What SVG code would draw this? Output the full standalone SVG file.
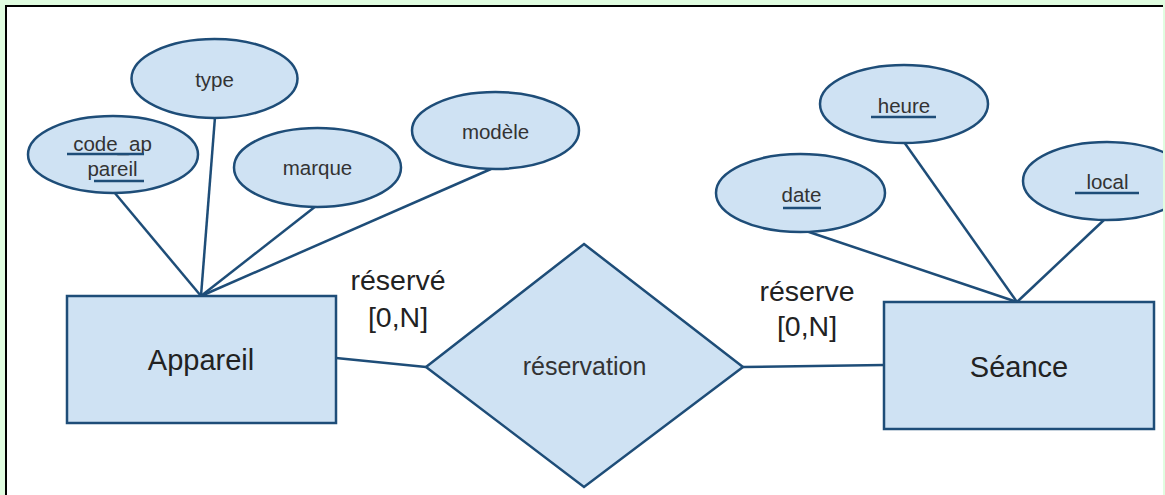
<svg xmlns="http://www.w3.org/2000/svg" width="1165" height="495" viewBox="0 0 1165 495">
<style>
.shape{fill:#cfe2f3;stroke:#1e4d78;stroke-width:2.5}
.conn{stroke:#1e4d78;stroke-width:2.5;fill:none}
.ul{stroke:#1e4d78;stroke-width:2.5}
.attr{font-family:"Liberation Sans",Arial,sans-serif;font-size:20.5px;fill:#333;text-anchor:middle}
.big{font-family:"Liberation Sans",Arial,sans-serif;font-size:29px;fill:#222;text-anchor:middle}
.rel{font-family:"Liberation Sans",Arial,sans-serif;font-size:25px;fill:#333;text-anchor:middle}
.card{font-family:"Liberation Sans",Arial,sans-serif;font-size:28.5px;fill:#222;text-anchor:middle}
</style>
<rect x="0" y="0" width="1165" height="495" fill="#e0fde0"/>
<rect x="6" y="6" width="1157" height="489" fill="#ffffff"/>
<path d="M6,495 V6 H1163" stroke="#000" stroke-width="2" fill="none"/>
<g id="connectors">
<line class="conn" x1="201" y1="296" x2="114" y2="192"/>
<line class="conn" x1="201" y1="296" x2="215" y2="117"/>
<line class="conn" x1="201" y1="296" x2="316" y2="206"/>
<line class="conn" x1="201" y1="296" x2="491" y2="169"/>
<line class="conn" x1="336" y1="358" x2="426" y2="367"/>
<line class="conn" x1="743" y1="367" x2="884" y2="365"/>
<line class="conn" x1="1017" y1="302" x2="806" y2="231"/>
<line class="conn" x1="1017" y1="302" x2="904" y2="142"/>
<line class="conn" x1="1017" y1="302" x2="1105" y2="219"/>
</g>
<g id="type">
<ellipse class="shape" cx="214.5" cy="78.5" rx="83" ry="39.5"/>
<text class="attr" x="214.5" y="87">type</text>
</g>
<g id="code_appareil">
<ellipse class="shape" cx="113" cy="154.5" rx="85" ry="38.5"/>
<text class="attr" x="112.5" y="151">code_ap</text>
<text class="attr" x="112.5" y="175.5">pareil</text>
<line class="ul" x1="67" y1="154" x2="144" y2="154"/>
<line class="ul" x1="94" y1="181" x2="144" y2="181"/>
</g>
<g id="marque">
<ellipse class="shape" cx="317.5" cy="167.5" rx="83.5" ry="39.5"/>
<text class="attr" x="317.5" y="175">marque</text>
</g>
<g id="modele">
<ellipse class="shape" cx="495.5" cy="130.5" rx="83.5" ry="38.5"/>
<text class="attr" x="495.5" y="139">modèle</text>
</g>
<g id="appareil">
<rect class="shape" x="67" y="296" width="269" height="127"/>
<text class="big" x="201" y="370">Appareil</text>
</g>
<g id="reservation">
<polygon class="shape" points="584,244 743,367 584,487 426,367"/>
<text class="rel" x="584.5" y="375">réservation</text>
</g>
<g id="label-reserve-left">
<text class="card" x="398" y="290">réservé</text>
<text class="card" x="398" y="327">[0,N]</text>
</g>
<g id="label-reserve-right">
<text class="card" x="807" y="300.5">réserve</text>
<text class="card" x="807" y="336">[0,N]</text>
</g>
<g id="heure">
<ellipse class="shape" cx="904" cy="104" rx="84" ry="39"/>
<text class="attr" x="904" y="113">heure</text>
<line class="ul" x1="871" y1="117" x2="936" y2="117"/>
</g>
<g id="date">
<ellipse class="shape" cx="800.5" cy="193" rx="84.5" ry="39"/>
<text class="attr" x="801.5" y="201.5">date</text>
<line class="ul" x1="783" y1="208" x2="821" y2="208"/>
</g>
<g id="local">
<ellipse class="shape" cx="1107" cy="181" rx="84" ry="39"/>
<text class="attr" x="1107.5" y="188.5">local</text>
<line class="ul" x1="1075" y1="193" x2="1139" y2="193"/>
</g>
<g id="seance">
<rect class="shape" x="884" y="302" width="270" height="127"/>
<text class="big" x="1019" y="376.5">Séance</text>
</g>
<rect x="1163" y="6" width="2" height="489" fill="#e0fde0"/>
</svg>
